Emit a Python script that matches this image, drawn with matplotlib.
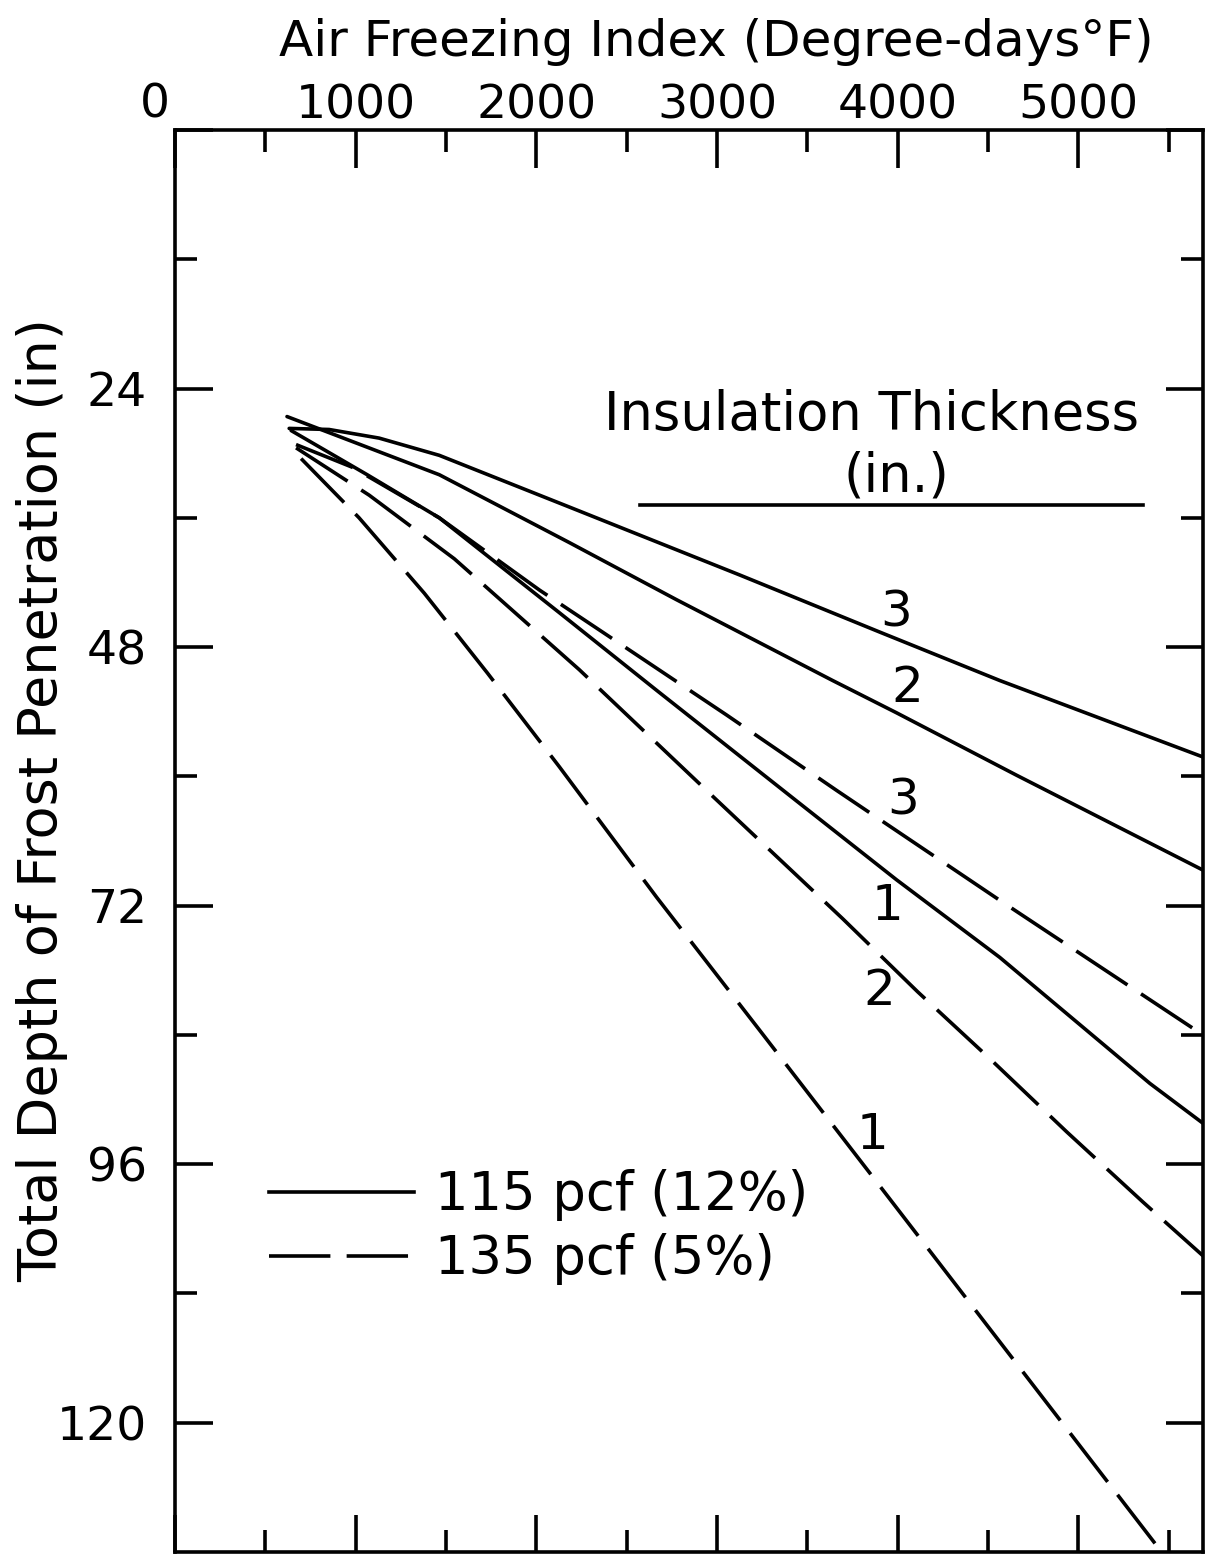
import matplotlib
matplotlib.use('Agg')
import matplotlib.pyplot as plt
from matplotlib.lines import Line2D

# air freezing index (degree-days F) vs total frost depth (in)
# 115 pcf (12%) - solid
s3_x = [632, 853, 1130, 1463, 2183, 3125, 3900, 4565, 5690]
s3_y = [27.7, 27.8, 28.6, 30.2, 35.0, 41.3, 46.6, 51.1, 58.2]
s2_x = [620, 1463, 2183, 2776, 3640, 3994, 4659, 5690]
s2_y = [26.6, 32.0, 38.3, 43.6, 51.1, 54.1, 59.9, 68.7]
s1_x = [643, 1064, 1463, 2127, 2665, 3457, 3994, 4565, 5396, 5690]
s1_y = [27.9, 32.0, 36.0, 44.8, 52.0, 62.5, 69.6, 76.8, 88.5, 92.2]

# 135 pcf (5%) - dashed
d3_x = [670, 981, 1463, 2017, 2366, 3053, 3662, 4565, 5690]
d3_y = [29.2, 31.3, 36.0, 42.7, 46.6, 54.3, 61.3, 71.5, 84.0]
d2_x = [670, 1075, 1546, 2238, 2986, 3695, 4111, 4510, 4936, 5357, 5690]
d2_y = [29.5, 33.9, 39.8, 50.1, 62.0, 73.2, 80.0, 86.2, 93.0, 99.5, 104.5]
d1_x = [698, 1019, 1380, 1729, 2127, 2665, 3247, 3845, 5452]
d1_y = [30.5, 36.0, 43.0, 50.4, 59.1, 71.2, 83.8, 96.8, 131.8]

# curve labels (insulation thickness, in.)
lab_text = ['3', '2', '3', '1', '2', '1']
lab_x = [3994, 4055, 4028, 3945, 3900, 3861]
lab_y = [44.8, 51.8, 62.2, 72.0, 79.9, 93.3]

xticks = [0, 1000, 2000, 3000, 4000, 5000]
xticklabels = ['', '1000', '2000', '3000', '4000', '5000']
yticks = [0, 24, 48, 72, 96, 120]
yticklabels = ['', '24', '48', '72', '96', '120']

plt.rcParams['font.family'] = ['DejaVu Sans']

fig = plt.figure(figsize=(12.06, 15.55), dpi=100)
ax = fig.add_axes([0.1451, 0.0019, 0.8524, 0.9145])

lw = 2.6
dash = (17, 4.5)
for xs, ys in [(s3_x, s3_y), (s2_x, s2_y), (s1_x, s1_y)]:
    ax.plot(xs, ys, color='k', lw=lw, solid_capstyle='round')
for xs, ys in [(d3_x, d3_y), (d2_x, d2_y), (d1_x, d1_y)]:
    ax.plot(xs, ys, color='k', lw=lw, dashes=dash)

for t, x, y in zip(lab_text, lab_x, lab_y):
    ax.text(x, y, t, fontsize=36, ha='center', va='center')

ax.set_xlim(0, 5690)
ax.set_ylim(132, 0)

ax.xaxis.tick_top()
ax.set_xticks(xticks)
ax.set_xticklabels(xticklabels)
ax.set_xticks(range(500, 5690, 1000), minor=True)
ax.set_yticks(yticks)
ax.set_yticklabels(yticklabels)
ax.set_yticks(range(12, 132, 24), minor=True)
ax.tick_params(which='both', direction='in', top=True, bottom=True, left=True, right=True,
               labeltop=True, labelbottom=False, width=2.6, labelsize=34)
ax.tick_params(which='major', length=27)
ax.tick_params(which='minor', length=16)
ax.tick_params(axis='x', pad=1)
ax.tick_params(axis='y', pad=20)
for sp in ax.spines.values():
    sp.set_linewidth(2.6)

fig.text(155 / 1206, 1 - 105 / 1555, '0', fontsize=34, ha='center', va='center')
fig.text(716 / 1206, 1 - 42 / 1555, 'Air Freezing Index (Degree-days°F)', fontsize=36,
         ha='center', va='center')
fig.text(42 / 1206, 1 - 800 / 1555, 'Total Depth of Frost Penetration (in)', fontsize=39,
         ha='center', va='center', rotation=90)

ax.text(0.678, 0.7995, 'Insulation Thickness', transform=ax.transAxes, fontsize=38,
        ha='center', va='center')
ax.text(0.702, 0.7565, '(in.)', transform=ax.transAxes, fontsize=38,
        ha='center', va='center')
ax.axhline(34.8, 0.452, 0.942, color='k', lw=lw)

handles = [Line2D([], [], color='k', lw=lw),
           Line2D([], [], color='k', lw=lw, dashes=dash)]
ax.legend(handles, ['115 pcf (12%)', '135 pcf (5%)'], loc='center left',
          bbox_to_anchor=(0.045, 0.2285), frameon=False, fontsize=38,
          handlelength=2.75, handletextpad=0.4, labelspacing=0.23)

plt.savefig('out.png', dpi=100)
